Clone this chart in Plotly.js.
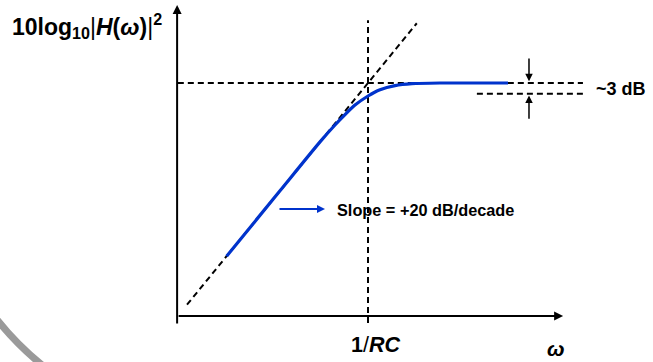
<!DOCTYPE html>
<html>
<head>
<meta charset="utf-8">
<script src="https://cdn.plot.ly/plotly-3.0.1.min.js"></script>
<style>html,body{margin:0;padding:0;background:#fff;}#chart{width:653px;height:362px;}</style>
</head>
<body>
<div id="chart"></div>
<script>
// x values: log10(omega*RC) (decades relative to 1/RC); y values: 10log10|H|^2 in dB
const responseDecades = [-2.0, -1.245, -0.679, -0.467, -0.325, -0.184, 0, 0.170, 0.382, 0.622, 1.018, 1.98];
const responseDb      = [-40, -24.9, -13.6, -9.7, -7.3, -5.1, -3.0, -1.55, -0.6, -0.15, 0, 0];

const slopeAsymDecades = [-2.56, 0.69];
const slopeAsymDb      = [-51.2, 13.8];

const flatAsymDecades  = [-2.69, 3.04];
const flatAsymDb       = [0, 0];

const halfPowerDecades = [1.54, 3.04];
const halfPowerDb      = [-2.5, -2.5];

const cornerDecades    = [0, 0];
const cornerDb         = [-55.4, 14.5];

const labels = {
  yTitle: "<b>10log<sub>10</sub></b>|<b><i>H</i>(<i>ω</i>)</b>|<sup><b>2</b></sup>",
  corner: "<b>1</b>/<b><i>RC</i></b>",
  xTitle: "<b><i>ω</i></b>",
  slope: "<b>Slope = +20 dB/decade</b>",
  drop: "<b>~3 dB</b>"
};

const dashStyle = {color: "#000", width: 2, dash: "6px,4px"};
const traces = [
  {x: slopeAsymDecades, y: slopeAsymDb, mode: "lines", line: dashStyle, hoverinfo: "skip"},
  {x: flatAsymDecades, y: flatAsymDb, mode: "lines", line: dashStyle, hoverinfo: "skip"},
  {x: halfPowerDecades, y: halfPowerDb, mode: "lines", line: dashStyle, hoverinfo: "skip"},
  {x: cornerDecades, y: cornerDb, mode: "lines", line: dashStyle, hoverinfo: "skip"},
  {x: responseDecades, y: responseDb, mode: "lines",
   line: {color: "#0033cc", width: 3.2, shape: "spline", smoothing: 0.6}, hoverinfo: "skip"}
];

const font = "Liberation Sans, Arial, sans-serif";
function arrow(x0, y0, x1, y1, color, width, size) {
  return {x: x1, y: y1, ax: x0, ay: y0, xref: "x", yref: "y", axref: "x", ayref: "y",
          text: "", showarrow: true, arrowhead: 2, arrowsize: size, arrowwidth: width,
          arrowcolor: color, standoff: 0, startstandoff: 0};
}
function label(text, x, y, size, xanchor) {
  return {x: x, y: y, xref: "x", yref: "y", text: text, showarrow: false,
          xanchor: xanchor, yanchor: "middle", font: {family: font, size: size, color: "#000"}};
}

const annotations = [
  arrow(-2.70, -55.9, -2.70, 18.0, "#000", 2, 0.9),   // y axis
  arrow(-2.70, -53.8, 2.76, -53.8, "#000", 2, 0.9),   // x axis
  arrow(2.277, 6.0, 2.277, 0.4, "#000", 1.5, 1.0),    // down arrow (~3 dB)
  arrow(2.277, -8.6, 2.277, -2.9, "#000", 1.5, 1.0),  // up arrow (~3 dB)
  arrow(-1.273, -29.1, -0.608, -29.1, "#0033cc", 2, 0.8), // slope pointer
  label(labels.yTitle, -5.06, 13.2, 23, "left"),
  label(labels.drop, 3.19, -1.3, 18, "left"),
  label(labels.slope, -0.46, -29.3, 16.3, "left"),
  label(labels.corner, 0.11, -60.5, 21.5, "center"),
  label(labels.xTitle, 2.66, -61.2, 21, "center")
];

const layout = {
  width: 653, height: 362, autosize: false,
  margin: {l: 0, r: 0, t: 0, b: 0, pad: 0},
  paper_bgcolor: "#fff", plot_bgcolor: "#fff",
  showlegend: false,
  xaxis: {range: [-5.205, 4.031], showgrid: false, zeroline: false, showline: false,
          showticklabels: false, ticks: "", fixedrange: true},
  yaxis: {range: [-64.43, 19.17], showgrid: false, zeroline: false, showline: false,
          showticklabels: false, ticks: "", fixedrange: true},
  annotations: annotations,
  shapes: [{
    type: "path", xref: "paper", yref: "paper",
    path: "M -0.0077 0.1243 Q 0.0312 0.0340 0.0842 -0.0359",
    line: {color: "#9a9a9a", width: 7}
  }]
};

Plotly.newPlot("chart", traces, layout, {displayModeBar: false, staticPlot: true});
</script>
</body>
</html>
